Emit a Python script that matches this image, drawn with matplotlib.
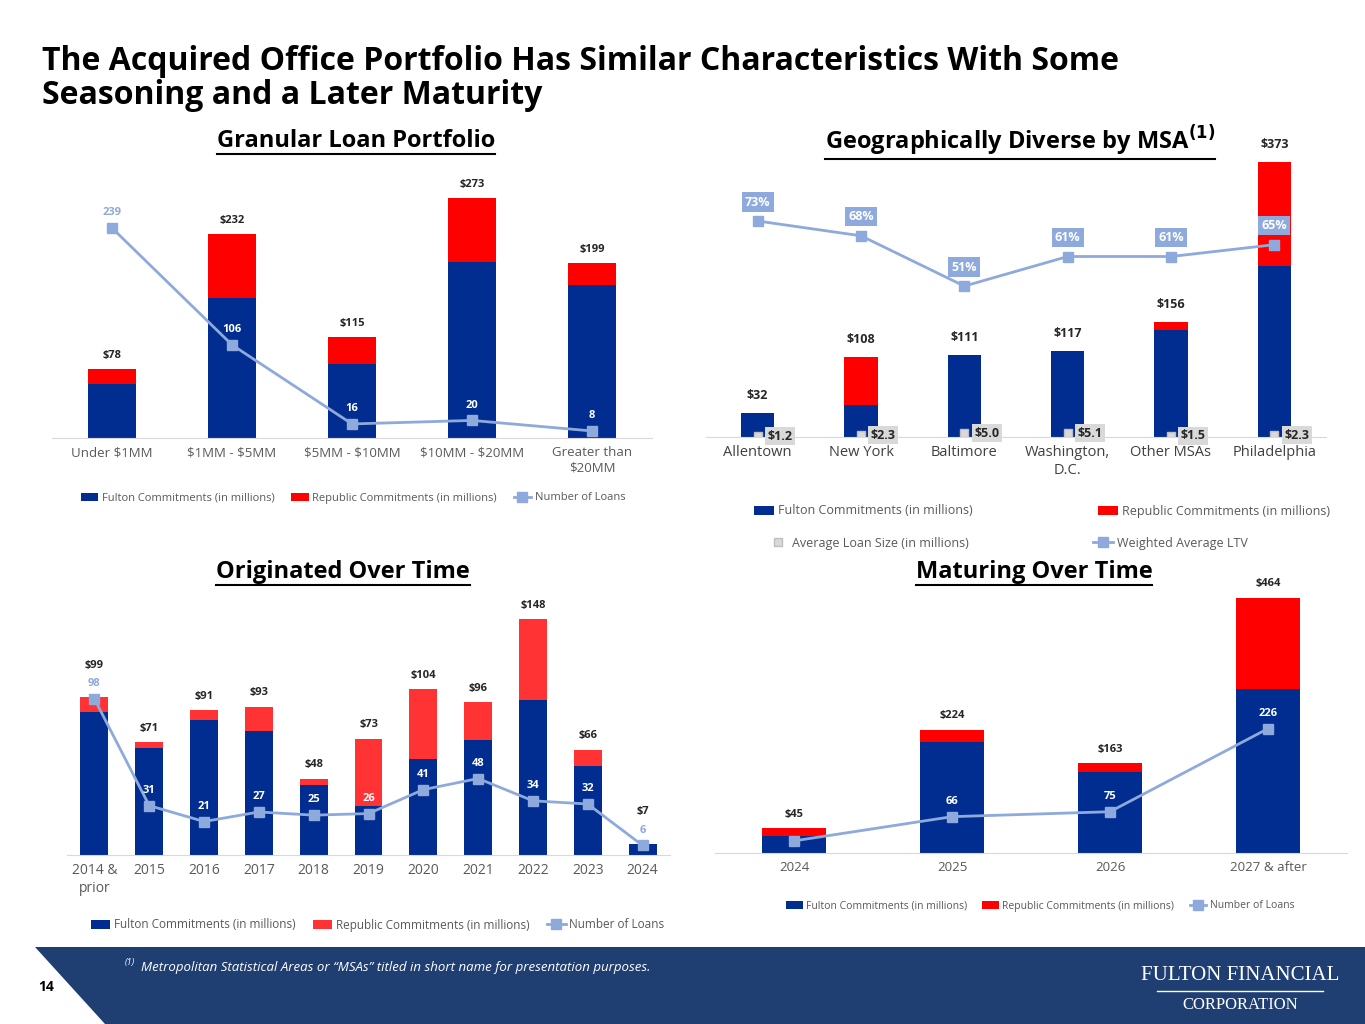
import matplotlib
matplotlib.use("Agg")
import matplotlib.pyplot as plt
from matplotlib.patches import Polygon
import numpy as np

plt.rcParams['font.family'] = ['Open Sans', 'DejaVu Sans']

NAVY = '#002D8F'
RED = '#FF0000'
RED2 = '#FF3333'
LBLUE = '#8EA9DB'
GRAY = '#595959'

# Granular Loan Portfolio
size_cats = ['Under \\$1MM', '\\$1MM - \\$5MM', '\\$5MM - \\$10MM', '\\$10MM - \\$20MM', 'Greater than\n\\$20MM']
size_fulton = [61, 159, 84, 200, 174]
size_total = [78, 232, 115, 273, 199]
size_loans = [239, 106, 16, 20, 8]

# Geographically diverse by MSA
msa_cats = ['Allentown', 'New York', 'Baltimore', 'Washington,\nD.C.', 'Other MSAs', 'Philadelphia']
msa_fulton = [32, 43, 111, 117, 145, 232]
msa_total = [32, 108, 111, 117, 156, 373]
msa_avg = [1.2, 2.3, 5.0, 5.1, 1.5, 2.3]
msa_ltv = [73, 68, 51, 61, 61, 65]

# Originated over time
orig_cats = ['2014 &\nprior', '2015', '2016', '2017', '2018', '2019', '2020', '2021', '2022', '2023', '2024']
orig_fulton = [90, 67, 85, 78, 44, 31, 60, 72, 97, 56, 7]
orig_total = [99, 71, 91, 93, 48, 73, 104, 96, 148, 66, 7]
orig_loans = [98, 31, 21, 27, 25, 26, 41, 48, 34, 32, 6]

# Maturing over time
mat_cats = ['2024', '2025', '2026', '2027 & after']
mat_fulton = [31, 202, 147, 298]
mat_total = [45, 224, 163, 464]
mat_loans = [22, 66, 75, 226]

W, H = 1365, 1024
fig = plt.figure(figsize=(W / 100, H / 100), dpi=100)


def px_axes(x0, y0, x1, y1):
    return fig.add_axes([x0 / W, 1 - y1 / H, (x1 - x0) / W, (y1 - y0) / H])


def style(ax, cats, fs=9.5, color=GRAY):
    for s in ['top', 'right', 'left']:
        ax.spines[s].set_visible(False)
    ax.spines['bottom'].set_color('#D9D9D9')
    ax.set_yticks([])
    ax.set_xticks(range(len(cats)))
    ax.set_xticklabels(cats, fontsize=fs, color=color)
    ax.tick_params(axis='x', length=0, pad=6)
    ax.set_xlim(-0.5, len(cats) - 0.5)
    ax.patch.set_alpha(0)


def loan_chart(ax, cats, fulton, total, loans, width, ymax, rep_color, outside, fs=9.5, lfs=8):
    x = np.arange(len(cats))
    rep = [t - f for t, f in zip(total, fulton)]
    ax.bar(x, fulton, width, color=NAVY, label='Fulton Commitments (in millions)')
    ax.bar(x, rep, width, bottom=fulton, color=rep_color, label='Republic Commitments (in millions)')
    ax.plot(x, loans, color=LBLUE, lw=2, marker='s', ms=7, label='Number of Loans')
    ax.set_ylim(0, ymax)
    style(ax, cats, fs)
    for i in x:
        c = LBLUE if i in outside else 'white'
        ax.annotate(f'{loans[i]}', (i, loans[i]), xytext=(0, 7), textcoords='offset points',
                    ha='center', va='bottom', fontsize=lfs, fontweight='bold', color=c)
        off = 19 if 0 <= total[i] - loans[i] < 5 else 6
        ax.annotate(f'${total[i]}', (i, total[i]), xytext=(0, off), textcoords='offset points',
                    ha='center', va='bottom', fontsize=lfs, fontweight='bold', color='#262626')


def legend(ax, cx, cy, ncol, fs=8):
    handles, labels = ax.get_legend_handles_labels()
    order = [1, 2, 0]
    fig.legend([handles[k] for k in order], [labels[k] for k in order], loc='center',
               bbox_to_anchor=(cx / W, 1 - cy / H), ncol=ncol,
               frameon=False, fontsize=fs, labelcolor=GRAY, handlelength=1.6, handletextpad=0.3,
               columnspacing=1.5)


# chart 1
ax1 = px_axes(52, 170, 652, 438)
loan_chart(ax1, size_cats, size_fulton, size_total, size_loans, 0.4, 305, RED, outside=[0])
legend(ax1, 353, 498, 3)

# chart 3
ax3 = px_axes(67, 600, 670, 855)
loan_chart(ax3, orig_cats, orig_fulton, orig_total, orig_loans, 0.51, 160, RED2, outside=[0, 10],
           fs=10)
legend(ax3, 378, 925, 3, fs=8.5)

# chart 4
ax4 = px_axes(715, 580, 1347, 853)
loan_chart(ax4, mat_cats, mat_fulton, mat_total, mat_loans, 0.4, 496, RED, outside=[])
legend(ax4, 1040, 906, 3, fs=7.5)

# chart 2
ax2 = px_axes(706, 150, 1326, 437)
x = np.arange(len(msa_cats))
msa_rep = [t - f for t, f in zip(msa_total, msa_fulton)]
b1 = ax2.bar(x, msa_fulton, 0.32, color=NAVY)
b2 = ax2.bar(x, msa_rep, 0.32, bottom=msa_fulton, color=RED)
ax2.set_ylim(0, 389)
sq, = ax2.plot(x, msa_avg, ls='none', marker='s', ms=6, mfc='#D9D9D9', mec='#BFBFBF')
style(ax2, msa_cats, fs=10.5, color='#404040')
for i in x:
    ax2.annotate(f'${msa_total[i]}', (i, msa_total[i]), xytext=(0, 8), textcoords='offset points',
                 ha='center', va='bottom', fontsize=9, fontweight='bold', color='#262626')
    ax2.annotate(f'${msa_avg[i]:.1f}', (i, msa_avg[i]), xytext=(7, 0), textcoords='offset points',
                 ha='left', va='center', fontsize=9, fontweight='bold', color='#262626',
                 bbox=dict(boxstyle='square,pad=0.2', fc='#D9D9D9', ec='none'))
ax2b = ax2.twinx()
ax2b.set_ylim(0, 97)
ln, = ax2b.plot(x, msa_ltv, color=LBLUE, lw=2, marker='s', ms=7)
ax2b.axis('off')
for i in x:
    ax2b.annotate(f'{msa_ltv[i]}%', (i, msa_ltv[i]), xytext=(0, 9), textcoords='offset points',
                  ha='center', va='bottom', fontsize=9, fontweight='bold', color='white',
                  bbox=dict(boxstyle='square,pad=0.25', fc=LBLUE, ec='none'))
fig.legend([b1, b2], ['Fulton Commitments (in millions)', 'Republic Commitments (in millions)'],
           loc='center', bbox_to_anchor=(1042 / W, 1 - 511 / H), ncol=2, frameon=False, fontsize=9,
           labelcolor=GRAY, handlelength=1.6, handletextpad=0.3, columnspacing=10)
fig.legend([sq, ln], ['Average Loan Size (in millions)', 'Weighted Average LTV'],
           loc='center', bbox_to_anchor=(1008 / W, 1 - 543 / H), ncol=2, frameon=False, fontsize=9,
           labelcolor=GRAY, handlelength=1.6, handletextpad=0.3, columnspacing=10)

# titles
fig.text(42 / W, 1 - 45 / H, 'The Acquired Office Portfolio Has Similar Characteristics With Some\nSeasoning and a Later Maturity',
         fontsize=23, fontweight='bold', va='top', ha='left', linespacing=1.05)

heads = [(356, 141, 'Granular Loan Portfolio'), (1020, 141, 'Geographically Diverse by MSA$^{\\mathbf{(1)}}$'),
         (343, 572, 'Originated Over Time'), (1034, 572, 'Maturing Over Time')]
fig.canvas.draw()
r = fig.canvas.get_renderer()
for cx, cy, t in heads:
    tx = fig.text(cx / W, 1 - cy / H, t, fontsize=17, fontweight='bold', ha='center', va='center')
    bb = tx.get_window_extent(r)
    fig.add_artist(plt.Line2D([bb.x0 / W, bb.x1 / W], [(bb.y0 - 1) / H] * 2, color='black', lw=1.5))

# banner
fig.add_artist(Polygon([[35 / W, 1 - 947 / H], [1, 1 - 947 / H], [1, 0], [105 / W, 0]],
                       closed=True, transform=fig.transFigure, fc='#1F3F73', ec='none'))
fig.text(38 / W, 1 - 987 / H, '14', fontsize=10, fontweight='bold', va='center')
fig.text(125 / W, 1 - 963 / H, '(1)', fontsize=6.5, style='italic', color='white', va='center')
fig.text(141 / W, 1 - 968 / H, 'Metropolitan Statistical Areas or \u201cMSAs\u201d titled in short name for presentation purposes.',
         fontsize=9.5, style='italic', color='white', va='center')
fig.text(1240 / W, 1 - 975 / H, 'FULTON FINANCIAL', fontsize=15, family='Liberation Serif', color='white',
         ha='center', va='center')
fig.text(1240 / W, 1 - 1005 / H, 'CORPORATION', fontsize=12, family='Liberation Serif', color='white',
         ha='center', va='center')
fig.add_artist(plt.Line2D([1157 / W, 1323 / W], [1 - 991 / H] * 2, color='white', lw=1))

fig.savefig('out.png', dpi=100)
